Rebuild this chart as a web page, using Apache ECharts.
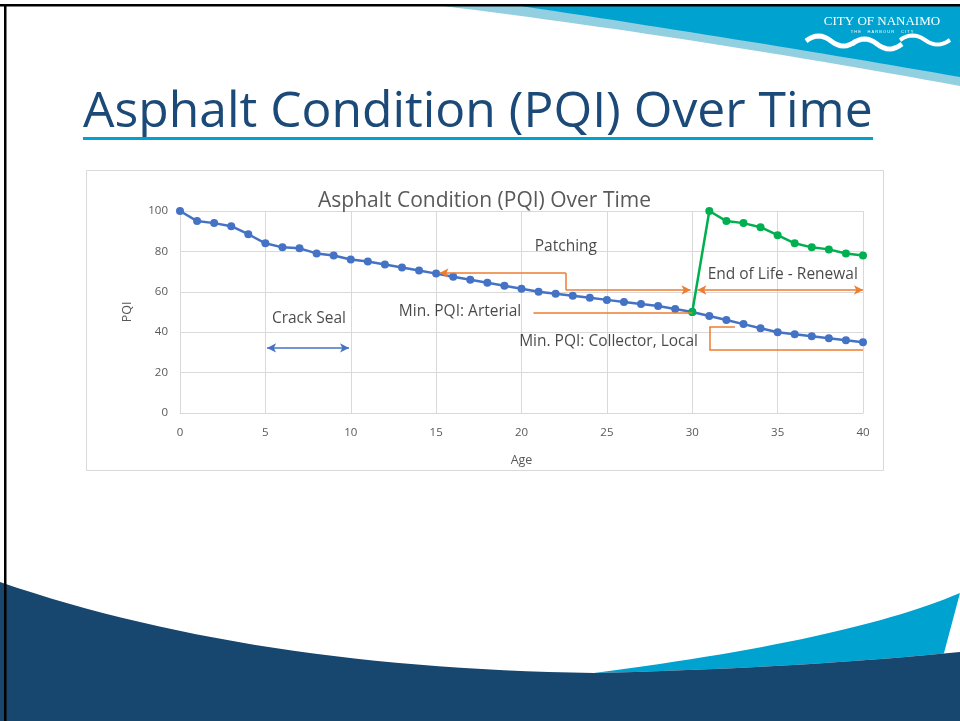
<!DOCTYPE html>
<html><head><meta charset="utf-8">
<script src="https://cdn.jsdelivr.net/npm/echarts@6/dist/echarts.min.js"></script>
<style>html,body{margin:0;padding:0;background:#fff}#c{width:960px;height:721px}</style>
</head><body><div id="c"></div>
<script>
// ---- data ----
const ages = [0,1,2,3,4,5,6,7,8,9,10,11,12,13,14,15,16,17,18,19,20,21,22,23,24,25,26,27,28,29,30,31,32,33,34,35,36,37,38,39,40];
const pqiOriginal = [100,95,94,92.5,88.5,84,82,81.5,79,78,76,75,73.5,72,70.5,69,67.5,66,64.5,63,61.5,60,59,58,57,56,55,54,53,51.5,50,48,46,44,42,40,39,38,37,36,35];
const renewalAges = [30,31,32,33,34,35,36,37,38,39,40];
const pqiRenewal = [50,100,95,94,92,88,84,82,81,79,78];
const xTicks = [0,5,10,15,20,25,30,35,40];
const yTicks = [0,20,40,60,80,100];
// annotation texts [age, pqi, text]
const notes = [
  [7.55, 46.8, 'Crack Seal'],
  [22.6, 82.6, 'Patching'],
  [35.3, 68.3, 'End of Life - Renewal'],
  [16.4, 50.4, 'Min. PQI: Arterial'],
  [25.1, 35.6, 'Min. PQI: Collector, Local']
];
// annotation segments in data coords: [x1,y1,x2,y2,startArrow,endArrow]
const crackSeal = [[5.1,32.2,9.9,32.2,1,1]];
const orangeSegs = [
  [15.2,69.3,22.6,69.3,1,0],
  [22.6,69.3,22.6,60.9,0,0],
  [22.6,60.9,29.9,60.9,0,1],
  [30.3,60.9,40,60.9,1,1],
  [20.7,49.5,30,49.5,0,0],
  [31.0,42.6,32.5,42.6,0,0],
  [31.0,42.6,31.0,31.2,0,0],
  [31.0,31.2,40,31.2,0,0]
];

const chart = echarts.init(document.getElementById('c'), null, {renderer:'canvas'});
const FONT = '"Open Sans", Lato, sans-serif';

function quad(p0, c, p1, n){
  const pts=[];
  for(let i=0;i<=n;i++){const t=i/n;
    pts.push([(1-t)*(1-t)*p0[0]+2*(1-t)*t*c[0]+t*t*p1[0],(1-t)*(1-t)*p0[1]+2*(1-t)*t*c[1]+t*t*p1[1]]);}
  return pts;
}
// decoration shapes
const lightBand = [[443,6],[960,6],[960,86]].concat(quad([960,86],[700,38],[443,6],30).slice(1));
const darkTop = [[521,6],[960,6],[960,77]].concat(quad([960,77],[760,42],[521,6],30).slice(1));
const navy = [[0,721],[0,582]].concat(quad([0,582],[250,668],[594,673],30).slice(1)).concat(quad([594,673],[800,668],[960,652],20).slice(1)).concat([[960,721]]);
const cyanB = quad([594,673],[850,640],[960,593],30).concat(quad([960,652],[800,668],[594,673],20).slice(1));

function wave(y, x0, w, a){
  return quad([x0,y],[x0+w/4,y-a],[x0+w/2,y],8).concat(quad([x0+w/2,y],[x0+3*w/4,y+a],[x0+w,y],8).slice(1));
}

function segLines(segs){
  return segs.map(s=>[
    {coord:[s[0],s[1]], symbol: s[4]?'arrow':'none', symbolSize:[7,9]},
    {coord:[s[2],s[3]], symbol: s[5]?'arrow':'none', symbolSize:[7,9]}
  ]);
}

const option = {
  animation:false,
  backgroundColor:'#ffffff',
  textStyle:{fontFamily:FONT},
  graphic:[
    {type:'polygon', z:-10, shape:{points:lightBand}, style:{fill:'#92CFE0'}},
    {type:'polygon', z:-9, shape:{points:darkTop}, style:{fill:'#00A3CF'}},
    {type:'polygon', z:-10, shape:{points:cyanB}, style:{fill:'#00A3CF'}},
    {type:'polygon', z:-9, shape:{points:navy}, style:{fill:'#17466F'}},
    {type:'rect', z:-8, shape:{x:0,y:4,width:960,height:2.5}, style:{fill:'#000'}},
    {type:'rect', z:-8, shape:{x:4,y:4,width:2.5,height:717}, style:{fill:'#000'}},
    {type:'text', z:5, style:{text:'CITY OF NANAIMO', x:882, y:22, align:'center', verticalAlign:'middle', font:'13px "Liberation Serif", "DejaVu Serif", serif', fill:'#fff'}},
    {type:'text', z:5, style:{text:'T H E      H A R B O U R      C I T Y', x:882, y:32, align:'center', verticalAlign:'middle', font:'4px "Liberation Sans", sans-serif', fill:'#fff'}},
    {type:'polyline', z:5, shape:{points:wave(41,806,50,10)}, style:{stroke:'#fff', lineWidth:5, fill:null}},
    {type:'polyline', z:5, shape:{points:wave(44,852,50,10)}, style:{stroke:'#fff', lineWidth:5, fill:null}},
    {type:'polyline', z:5, shape:{points:wave(40,900,50,9)}, style:{stroke:'#fff', lineWidth:4, fill:null}},
    {type:'text', z:5, style:{text:'Asphalt Condition (PQI) Over Time', x:83, y:113, align:'left', verticalAlign:'middle', font:'49.8px "Open Sans", Lato, sans-serif', fill:'#1B4A78'}},
    {type:'rect', z:5, shape:{x:83,y:137,width:790,height:3}, style:{fill:'#00A3CF'}},
    {type:'rect', z:-5, shape:{x:86.5,y:170.5,width:797,height:300}, style:{fill:'#fff', stroke:'#D9D9D9', lineWidth:1}}
  ],
  title:{text:'Asphalt Condition (PQI) Over Time', left:313, top:186,
    textStyle:{fontFamily:FONT, fontSize:21, fontWeight:'normal', color:'#595959'}},
  grid:{left:180, right:97, top:211, bottom:308, containLabel:false},
  xAxis:{type:'value', min:0, max:40, interval:5, name:'Age', nameLocation:'middle', nameGap:41,
    nameTextStyle:{color:'#595959', fontSize:12.5, fontFamily:FONT},
    axisLine:{show:true, lineStyle:{color:'#D9D9D9'}}, axisTick:{show:false},
    axisLabel:{color:'#595959', fontSize:11.5, margin:14, fontFamily:FONT},
    splitLine:{show:true, lineStyle:{color:'#D9D9D9'}}},
  yAxis:{type:'value', min:0, max:100, interval:20, name:'PQI', nameLocation:'middle', nameGap:46,
    nameTextStyle:{color:'#595959', fontSize:12.5, fontFamily:FONT},
    axisLine:{show:false}, axisTick:{show:false},
    axisLabel:{color:'#595959', fontSize:11.5, margin:12, fontFamily:FONT},
    splitLine:{show:true, lineStyle:{color:'#D9D9D9'}}},
  series:[
    {type:'line', name:'Original', data:ages.map((a,i)=>[a,pqiOriginal[i]]), symbol:'circle', symbolSize:8,
      lineStyle:{color:'#4472C4', width:2.5}, itemStyle:{color:'#4472C4'}, z:3},
    {type:'line', name:'Renewal', data:renewalAges.map((a,i)=>[a,pqiRenewal[i]]), symbol:'circle', symbolSize:8,
      lineStyle:{color:'#00B050', width:2.5}, itemStyle:{color:'#00B050'}, z:4},
    {type:'line', name:'crack', data:[], silent:true, z:5,
      markLine:{silent:true, animation:false, label:{show:false}, lineStyle:{color:'#4472C4', width:1.5, type:'solid'}, data:segLines(crackSeal)}},
    {type:'line', name:'orange', data:[], silent:true, z:2,
      markLine:{silent:true, animation:false, label:{show:false}, lineStyle:{color:'#ED7D31', width:1.5, type:'solid'}, data:segLines(orangeSegs)}},
    {type:'scatter', name:'notes', data:notes, symbolSize:0, silent:true, z:6,
      label:{show:true, position:'inside', formatter:p=>p.data[2], color:'#1a1a1a', fontSize:15.5, fontFamily:FONT}}
  ]
};
chart.setOption(option);
</script></body></html>
